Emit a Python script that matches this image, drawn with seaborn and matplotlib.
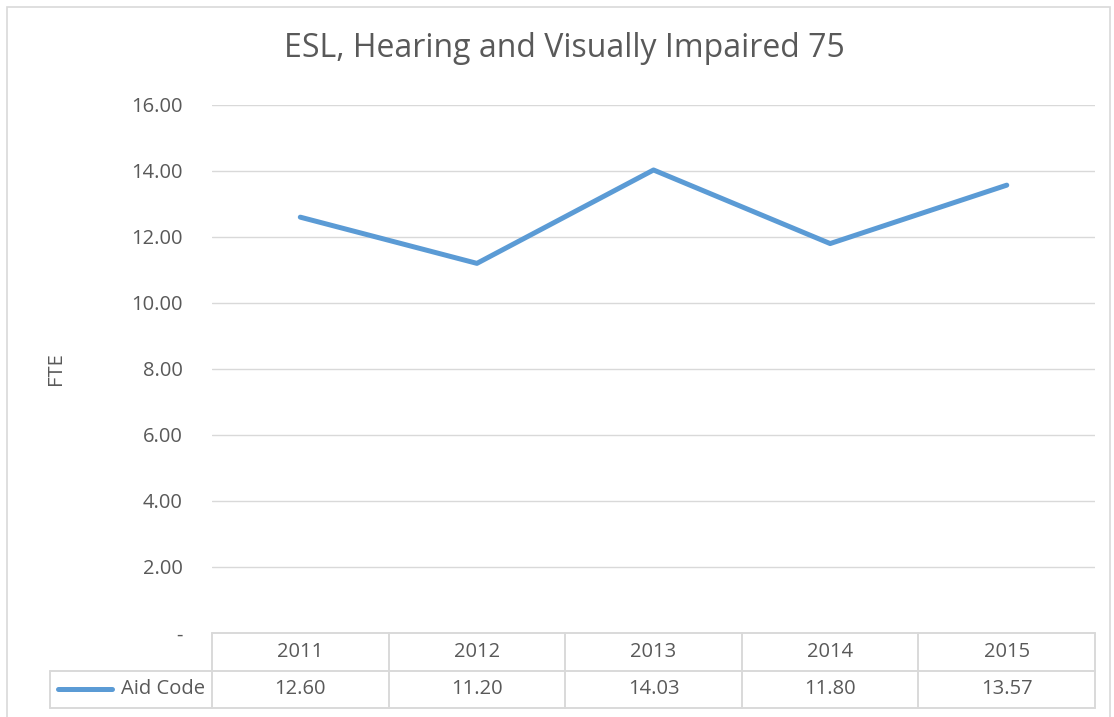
"""Line chart with an Excel style data table underneath."""
import matplotlib.pyplot as plt
import matplotlib.transforms as mtransforms
import numpy as np
import seaborn as sns
from matplotlib.patches import Rectangle
from matplotlib.ticker import FuncFormatter

years = ["2011", "2012", "2013", "2014", "2015"]
fte = [12.60, 11.20, 14.03, 11.80, 13.57]
series_name = "Aid Code"
title = "ESL, Hearing and Visually Impaired 75"

LINE = "#5B9BD5"
TEXT = "#595959"
GRID = "#D9D9D9"
FS = 14.5

sns.set_theme(style="white")
plt.rcParams["font.family"] = ["Open Sans", "DejaVu Sans"]

fig = plt.figure(figsize=(11.14, 7.17), dpi=100)
fig.patches.append(
    Rectangle((0.006, -0.01), 0.99, 1.0, transform=fig.transFigure,
              fill=False, edgecolor=GRID, linewidth=1.2)
)
ax = fig.add_axes([0.1903, 0.1172, 0.7927, 0.7364])

pos = np.arange(len(years))
sns.lineplot(x=pos, y=fte, ax=ax, color=LINE, linewidth=3.6,
             solid_capstyle="round")

ax.set_xlim(-0.5, len(years) - 0.5)
ax.set_ylim(0, 16)
ax.set_yticks(np.arange(0, 17, 2))
ax.yaxis.set_major_formatter(
    FuncFormatter(lambda v, _: "-" if v == 0 else f"{v:.2f}")
)
ax.tick_params(axis="y", labelsize=FS, colors=TEXT, length=0, pad=21)
ax.set_xticks([])
for v in np.arange(2, 17, 2):
    ax.axhline(v, color=GRID, linewidth=1, zorder=0)
for s in ax.spines.values():
    s.set_visible(False)
ax.set_ylabel("FTE", fontsize=FS, color=TEXT, labelpad=47)
fig.text(0.507, 0.933, title, ha="center", va="center", fontsize=23,
         color=TEXT)

# data table below the plot area
tr = mtransforms.blended_transform_factory(ax.transData, ax.transAxes)
row1 = -0.072
row2 = -0.142
left = -0.1835
edges = np.arange(len(years) + 1) - 0.5
kw = dict(color=GRID, linewidth=1.4, clip_on=False)
ax.plot([edges[0], edges[-1]], [0, 0], transform=tr, **kw)
for e in edges:
    ax.plot([e, e], [0, row2], transform=tr, **kw)
ax.plot([left, 1], [row1, row1], transform=ax.transAxes, **kw)
ax.plot([left, 1], [row2, row2], transform=ax.transAxes, **kw)
ax.plot([left, left], [row1, row2], transform=ax.transAxes, **kw)

for p, yr, v in zip(pos, years, fte):
    ax.text(p, row1 / 2, yr, transform=tr, ha="center", va="center",
            fontsize=FS, color=TEXT)
    ax.text(p, (row1 + row2) / 2, f"{v:.2f}", transform=tr, ha="center",
            va="center", fontsize=FS, color=TEXT)

ax.plot([left + 0.009, left + 0.07], [(row1 + row2) / 2] * 2,
        transform=ax.transAxes, color=LINE, linewidth=3.6,
        solid_capstyle="round", clip_on=False)
ax.text(-0.0075, (row1 + row2) / 2, series_name, transform=ax.transAxes,
        ha="right", va="center", fontsize=FS, color=TEXT)

fig.savefig("out.png", dpi=100)
